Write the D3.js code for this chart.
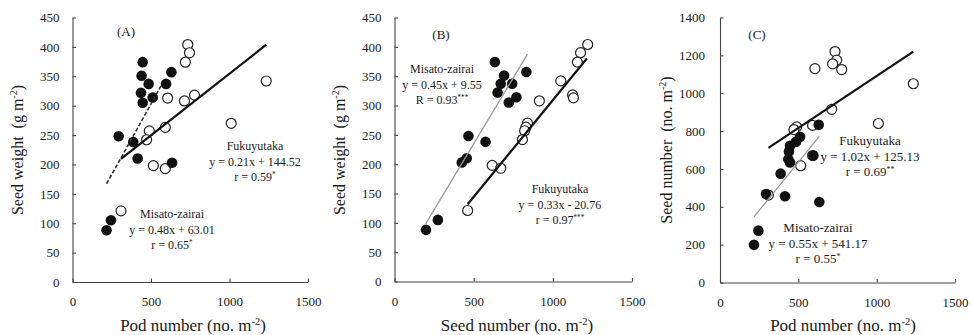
<!DOCTYPE html>
<html>
<head>
<meta charset="utf-8">
<script src="https://cdn.jsdelivr.net/npm/d3@7"></script>
<style>
  html, body { margin: 0; padding: 0; background: #fff; }
  svg { display: block; font-family: "Liberation Serif", "Times New Roman", serif; }
</style>
</head>
<body>
<svg id="chart" width="973" height="335"></svg>
<script>
// Observations per plot: pod number (no. m-2), seed number (no. m-2), seed weight (g m-2)
const misatoPods    = [447, 440, 485, 436, 447, 511, 596, 630, 294, 387, 415, 634, 245, 217];
const misatoSeeds   = [634, 692, 743, 651, 722, 770, 671, 833, 467, 575, 456, 425, 274, 199];
const misatoWeights = [374, 351, 337, 322, 305, 314, 337, 357, 248, 238, 210, 203, 105, 88];

const fukuPods    = [734, 745, 719, 1234, 777, 606, 713, 1011, 591, 489, 472, 515, 591, 309];
const fukuSeeds   = [1220, 1175, 1155, 1050, 1125, 1130, 915, 840, 830, 822, 808, 617, 671, 462];
const fukuWeights = [404, 390, 374, 342, 318, 313, 308, 270, 263, 257, 242, 198, 193, 121];

// Tick values
const xTicks = [0, 500, 1000, 1500];
const weightTicks = [0, 50, 100, 150, 200, 250, 300, 350, 400, 450];
const seedTicks = [0, 200, 400, 600, 800, 1000, 1200, 1400];

// Fitted regressions: [slope, intercept, x from, x to]
const fitA = { solid: [0.21, 144.52, 309, 1234], dashed: [0.48, 63.01, 217, 570] };
const fitB = { solid: [0.33, -20.76, 462, 1215], gray: [0.45, 9.55, 195, 840] };
const fitC = { solid: [0.55, 541.17, 309, 1234], gray: [1.02, 125.13, 217, 634] };

// Annotation lines
const notesA = [
  { lines: ["Fukuyutaka", "y = 0.21x + 144.52", ["r = 0.59", "*"]], x: 255, y: 150, size: 12 },
  { lines: ["Misato-zairai", "y = 0.48x + 63.01", ["r = 0.65", "*"]], x: 172, y: 218, size: 12 }
];
const notesB = [
  { lines: ["Misato-zairai", "y = 0.45x + 9.55", ["R = 0.93", "***"]], x: 442, y: 73, size: 12 },
  { lines: ["Fukuyutaka", "y = 0.33x - 20.76", ["r = 0.97", "***"]], x: 560, y: 193, size: 12 }
];
const notesC = [
  { lines: ["Fukuyutaka", "y = 1.02x + 125.13", ["r = 0.69", "**"]], x: 870, y: 145, size: 13 },
  { lines: ["Misato-zairai", "y = 0.55x + 541.17", ["r = 0.55", "*"]], x: 818, y: 232, size: 13 }
];

const svg = d3.select("#chart");
const ink = "#1a1a1a";

function panel(cfg) {
  const x = d3.scaleLinear().domain([0, 1500]).range([cfg.left, cfg.right]);
  const y = d3.scaleLinear().domain([0, cfg.ymax]).range([cfg.bottom, cfg.top]);
  const g = svg.append("g");

  const xa = g.append("g").attr("transform", `translate(0,${cfg.bottom})`)
    .call(d3.axisBottom(x).tickValues(xTicks).tickSizeInner(-3.5).tickSizeOuter(0).tickPadding(15).tickFormat(d3.format("d")));
  const ya = g.append("g").attr("transform", `translate(${cfg.left},0)`)
    .call(d3.axisLeft(y).tickValues(cfg.yTicks).tickSizeInner(-3.5).tickSizeOuter(0).tickPadding(cfg.ypad).tickFormat(d3.format("d")));
  [xa, ya].forEach(a => {
    a.selectAll("path, line").attr("stroke", "#444").attr("stroke-width", 1.1);
    a.selectAll("text").attr("fill", ink).attr("font-size", 13)
      .attr("font-family", "Liberation Serif, serif");
  });

  // points
  const open = cfg.open.x.map((v, i) => [v, cfg.open.y[i]]);
  const filled = cfg.filled.x.map((v, i) => [v, cfg.filled.y[i]]);
  g.append("g").selectAll("circle").data(open).join("circle")
    .attr("cx", d => x(d[0])).attr("cy", d => y(d[1])).attr("r", 5)
    .attr("fill", "#fff").attr("stroke", "#222").attr("stroke-width", 1.2);
  g.append("g").selectAll("circle").data(filled).join("circle")
    .attr("cx", d => x(d[0])).attr("cy", d => y(d[1])).attr("r", 5.3)
    .attr("fill", "#111");

  // regression lines
  cfg.fits.forEach(f => {
    const [m, b, x0, x1] = f.fit;
    g.append("line")
      .attr("x1", x(x0)).attr("y1", y(m * x0 + b))
      .attr("x2", x(x1)).attr("y2", y(m * x1 + b))
      .attr("stroke", f.color).attr("stroke-width", f.width)
      .attr("stroke-dasharray", f.dash || null);
  });

  // panel tag
  g.append("text").attr("x", cfg.tag[1]).attr("y", cfg.tag[2]).attr("text-anchor", "middle")
    .attr("font-size", 13).attr("fill", ink).text(cfg.tag[0]);

  // equations
  cfg.notes.forEach(n => {
    n.lines.forEach((ln, i) => {
      const t = g.append("text").attr("x", n.x).attr("y", n.y + i * 15.5)
        .attr("text-anchor", "middle").attr("font-size", n.size).attr("fill", ink);
      if (Array.isArray(ln)) {
        t.append("tspan").text(ln[0]);
        t.append("tspan").attr("dy", -4).attr("font-size", n.size * 0.6).text(ln[1]);
      } else t.text(ln);
    });
  });

  // axis titles
  const xt = g.append("text").attr("x", cfg.xTitle[1]).attr("y", 331)
    .attr("text-anchor", "middle").attr("font-size", 17).attr("fill", ink);
  xt.append("tspan").text(cfg.xTitle[0] + " (no. m");
  xt.append("tspan").attr("dy", -6).attr("font-size", 10.5).text("-2");
  xt.append("tspan").attr("dy", 6).text(")");

  const yt = g.append("text")
    .attr("transform", `translate(${cfg.yTitle[2]},150) rotate(-90)`)
    .attr("text-anchor", "middle").attr("font-size", 16).attr("fill", ink);
  yt.append("tspan").text(cfg.yTitle[0] + "\u00a0\u00a0(" + cfg.yTitle[1] + " m");
  yt.append("tspan").attr("dy", -6).attr("font-size", 10).text("-2");
  yt.append("tspan").attr("dy", 6).text(")");
}

panel({
  left: 72.5, right: 308, top: 17.5, bottom: 282, ymax: 450, yTicks: weightTicks, ypad: 13,
  filled: { x: misatoPods, y: misatoWeights }, open: { x: fukuPods, y: fukuWeights },
  fits: [{ fit: fitA.solid, color: "#111", width: 2.2 },
         { fit: fitA.dashed, color: "#333", width: 1.6, dash: "4,2" }],
  notes: notesA, tag: ["(A)", 126, 36],
  xTitle: ["Pod number", 193], yTitle: ["Seed weight", "g", 23]
});

panel({
  left: 394.5, right: 632, top: 17.5, bottom: 281.5, ymax: 450, yTicks: weightTicks, ypad: 13,
  filled: { x: misatoSeeds, y: misatoWeights }, open: { x: fukuSeeds, y: fukuWeights },
  fits: [{ fit: fitB.gray, color: "#999", width: 1.3 },
         { fit: fitB.solid, color: "#111", width: 2.2 }],
  notes: notesB, tag: ["(B)", 441, 39],
  xTitle: ["Seed number", 517], yTitle: ["Seed weight", "g", 345]
});

panel({
  left: 720, right: 955, top: 17.5, bottom: 282.5, ymax: 1400, yTicks: seedTicks, ypad: 15,
  filled: { x: misatoPods, y: misatoSeeds }, open: { x: fukuPods, y: fukuSeeds },
  fits: [{ fit: fitC.gray, color: "#999", width: 1.3 },
         { fit: fitC.solid, color: "#111", width: 2.2 }],
  notes: notesC, tag: ["(C)", 757, 39],
  xTitle: ["Pod number", 843], yTitle: ["Seed number", "no.", 672]
});
</script>
</body>
</html>
